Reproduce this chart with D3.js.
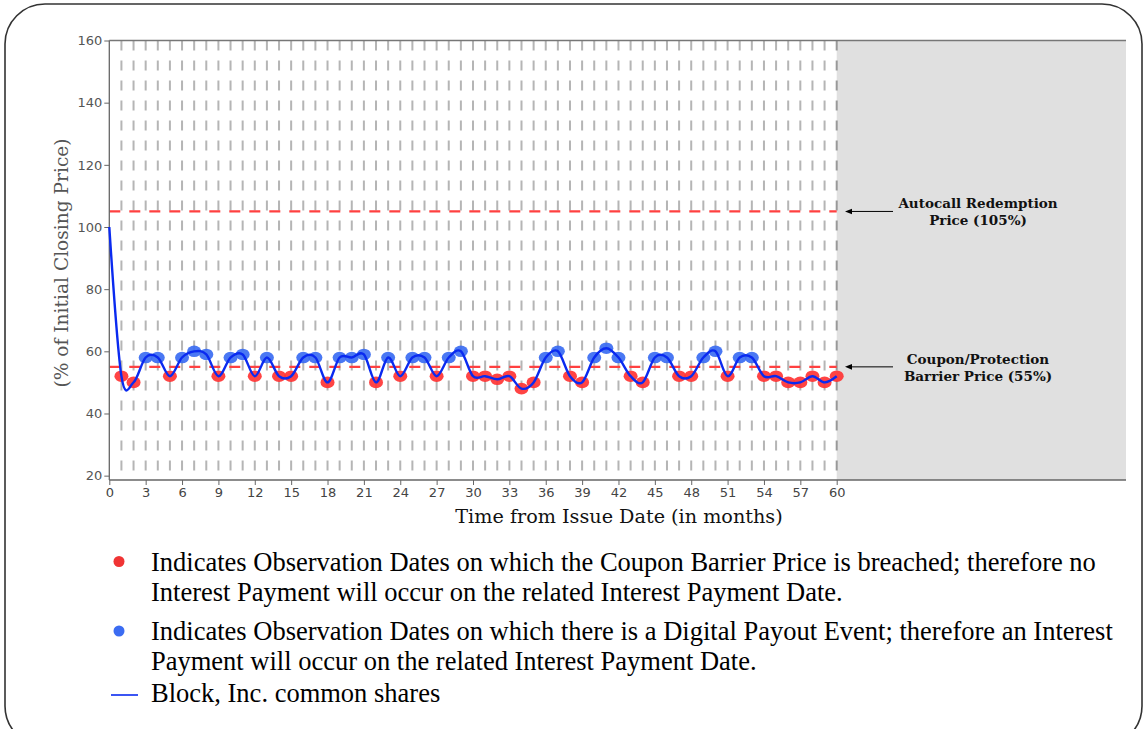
<!DOCTYPE html>
<html><head><meta charset="utf-8">
<script src="https://cdn.jsdelivr.net/npm/d3@7"></script>
<style>body{margin:0;background:#fff}svg{display:block}</style>
</head><body><svg id="c" width="1146" height="729"></svg>
<script>
// ---- data ----
const months = [1,2,3,4,5,6,7,8,9,10,11,12,13,14,15,16,17,18,19,20,21,22,23,24,25,26,27,28,29,30,
                31,32,33,34,35,36,37,38,39,40,41,42,43,44,45,46,47,48,49,50,51,52,53,54,55,56,57,58,59,60];
const values = [52,50,58,58,52,58,60,59,52,58,59,52,58,52,52,58,58,50,58,58,59,50,58,52,58,58,52,58,60,52,
                52,51,52,48,50,58,60,52,50,58,61,58,52,50,58,58,52,52,58,60,52,58,58,52,52,50,50,52,50,52];
const startMonth = 0, startValue = 100;
const xTicks = [0,3,6,9,12,15,18,21,24,27,30,33,36,39,42,45,48,51,54,57,60];
const yTicks = [20,40,60,80,100,120,140,160];
const autocallLevel = 105;
const barrierLevel = 55;
const termMonths = 60;
const annoLines1 = ["Autocall Redemption", "Price (105%)"];
const annoLines2 = ["Coupon/Protection", "Barrier Price (55%)"];
const xTitle = "Time from Issue Date (in months)";
const yTitle = "(% of Initial Closing Price)";
const legendRed = ["Indicates Observation Dates on which the Coupon Barrier Price is breached; therefore no",
                   "Interest Payment will occur on the related Interest Payment Date."];
const legendBlue = ["Indicates Observation Dates on which there is a Digital Payout Event; therefore an Interest",
                    "Payment will occur on the related Interest Payment Date."];
const legendLine = "Block, Inc. common shares";

// ---- layout ----
const svg = d3.select("#c");
const pL = 109.3, pR = 1126, pT = 40.5, pB = 480;
const x = d3.scaleLinear().domain([0, 60]).range([pL, 836.7]);
const y = d3.scaleLinear().domain([18.6, 160]).range([pB, pT]);
const RED = "#ff3434", BLUE = "#3b6cf2", LINE = "#0a2af0";

// outer frame
svg.append("rect").attr("x", 5).attr("y", 4).attr("width", 1137).attr("height", 742)
  .attr("rx", 40).attr("ry", 40).attr("fill", "none").attr("stroke", "#333").attr("stroke-width", 1.6);

// gray region after term
svg.append("rect").attr("x", x(termMonths)).attr("y", pT).attr("width", pR - x(termMonths))
  .attr("height", pB - pT).attr("fill", "#e0e0e0");

// vertical dashed gridlines at observation months
svg.append("g").selectAll("line").data(months).join("line")
  .attr("x1", d => x(d)).attr("x2", d => x(d)).attr("y1", pT).attr("y2", pB)
  .attr("stroke", d => d === termMonths ? "#999" : "#b5b5b5")
  .attr("stroke-width", 2).attr("stroke-dasharray", "10,10");

// red dashed levels
[autocallLevel, barrierLevel].forEach(lv => {
  svg.append("line").attr("x1", pL).attr("x2", x(termMonths)).attr("y1", y(lv)).attr("y2", y(lv))
    .attr("stroke", "#ff4040").attr("stroke-width", 2.2).attr("stroke-dasharray", "11,9");
});

// axes
const gx = svg.append("g").attr("transform", `translate(0,${pB})`)
  .call(d3.axisBottom(x).tickValues(xTicks).tickSize(5).tickSizeOuter(0).tickPadding(3));
gx.select(".domain").remove();
gx.selectAll("line").attr("stroke", "#666");
gx.selectAll("text").attr("font-family", "DejaVu Sans").attr("font-size", 13).attr("fill", "#444");

const gy = svg.append("g").attr("transform", `translate(${pL},0)`)
  .call(d3.axisLeft(y).tickValues(yTicks).tickSize(5).tickSizeOuter(0).tickPadding(2));
gy.select(".domain").remove();
gy.selectAll("line").attr("stroke", "#666");
gy.selectAll("text").attr("font-family", "DejaVu Sans").attr("font-size", 13).attr("fill", "#555");

// frame lines
svg.append("line").attr("x1", pL).attr("x2", pR).attr("y1", pT).attr("y2", pT).attr("stroke", "#777").attr("stroke-width", 1.3);
svg.append("line").attr("x1", pL).attr("x2", pR).attr("y1", pB).attr("y2", pB).attr("stroke", "#666").attr("stroke-width", 1.3);
svg.append("line").attr("x1", pL).attr("x2", pL).attr("y1", pT).attr("y2", pB).attr("stroke", "#666").attr("stroke-width", 1.3);

// markers
const pts = months.map((m, i) => ({m, v: values[i]}));
svg.append("g").selectAll("ellipse").data(pts).join("ellipse")
  .attr("cx", d => x(d.m)).attr("cy", d => y(d.v)).attr("rx", 7).attr("ry", 5.8)
  .attr("fill", d => d.v < barrierLevel ? RED : BLUE).attr("fill-opacity", 0.92);

// price line
const linePts = [{m: startMonth, v: startValue}].concat(pts);
svg.append("path").datum(linePts)
  .attr("d", d3.line().x(d => x(d.m)).y(d => y(d.v)).curve(d3.curveCardinal.tension(0)))
  .attr("fill", "none").attr("stroke", LINE).attr("stroke-width", 2.4);

// annotations
const defs = svg.append("defs");
defs.append("marker").attr("id", "arr").attr("viewBox", "0 0 10 10").attr("refX", 0).attr("refY", 5)
  .attr("markerWidth", 7).attr("markerHeight", 7).attr("orient", "auto")
  .append("path").attr("d", "M0,1 L10,5 L0,9 z").attr("fill", "#000");
function annotate(level, lines) {
  const yy = y(level);
  svg.append("line").attr("x1", 893).attr("x2", 852).attr("y1", yy).attr("y2", yy)
    .attr("stroke", "#000").attr("stroke-width", 1).attr("marker-end", "url(#arr)");
  const t = svg.append("text").attr("x", 978).attr("text-anchor", "middle")
    .attr("font-family", "DejaVu Serif").attr("font-size", 13.5).attr("font-weight", "bold").attr("fill", "#111");
  lines.forEach((s, i) => t.append("tspan").attr("x", 978).attr("y", yy - 3 + i * 17).text(s));
}
annotate(autocallLevel, annoLines1);
annotate(barrierLevel, annoLines2);

// axis titles
svg.append("text").attr("x", 619).attr("y", 523).attr("text-anchor", "middle")
  .attr("font-family", "DejaVu Serif").attr("font-size", 19.2).attr("fill", "#111").text(xTitle);
svg.append("text").attr("transform", "translate(68,263) rotate(-90)").attr("text-anchor", "middle")
  .attr("font-family", "DejaVu Serif").attr("font-size", 18.6).attr("fill", "#555").text(yTitle);

// legend
const lg = svg.append("g").attr("font-family", "Liberation Serif").attr("font-size", 26.5).attr("fill", "#000");
lg.append("circle").attr("cx", 119).attr("cy", 561.5).attr("r", 5.5).attr("fill", "#f03434");
lg.append("text").attr("x", 151).attr("y", 570.5).text(legendRed[0]);
lg.append("text").attr("x", 151).attr("y", 601).text(legendRed[1]);
lg.append("circle").attr("cx", 119).attr("cy", 631).attr("r", 5.5).attr("fill", "#3b6cf2");
lg.append("text").attr("x", 151).attr("y", 639.5).text(legendBlue[0]);
lg.append("text").attr("x", 151).attr("y", 670).text(legendBlue[1]);
lg.append("line").attr("x1", 111).attr("x2", 138).attr("y1", 695).attr("y2", 695).attr("stroke", LINE).attr("stroke-width", 1.6);
lg.append("text").attr("x", 151).attr("y", 702).text(legendLine);
</script></body></html>
